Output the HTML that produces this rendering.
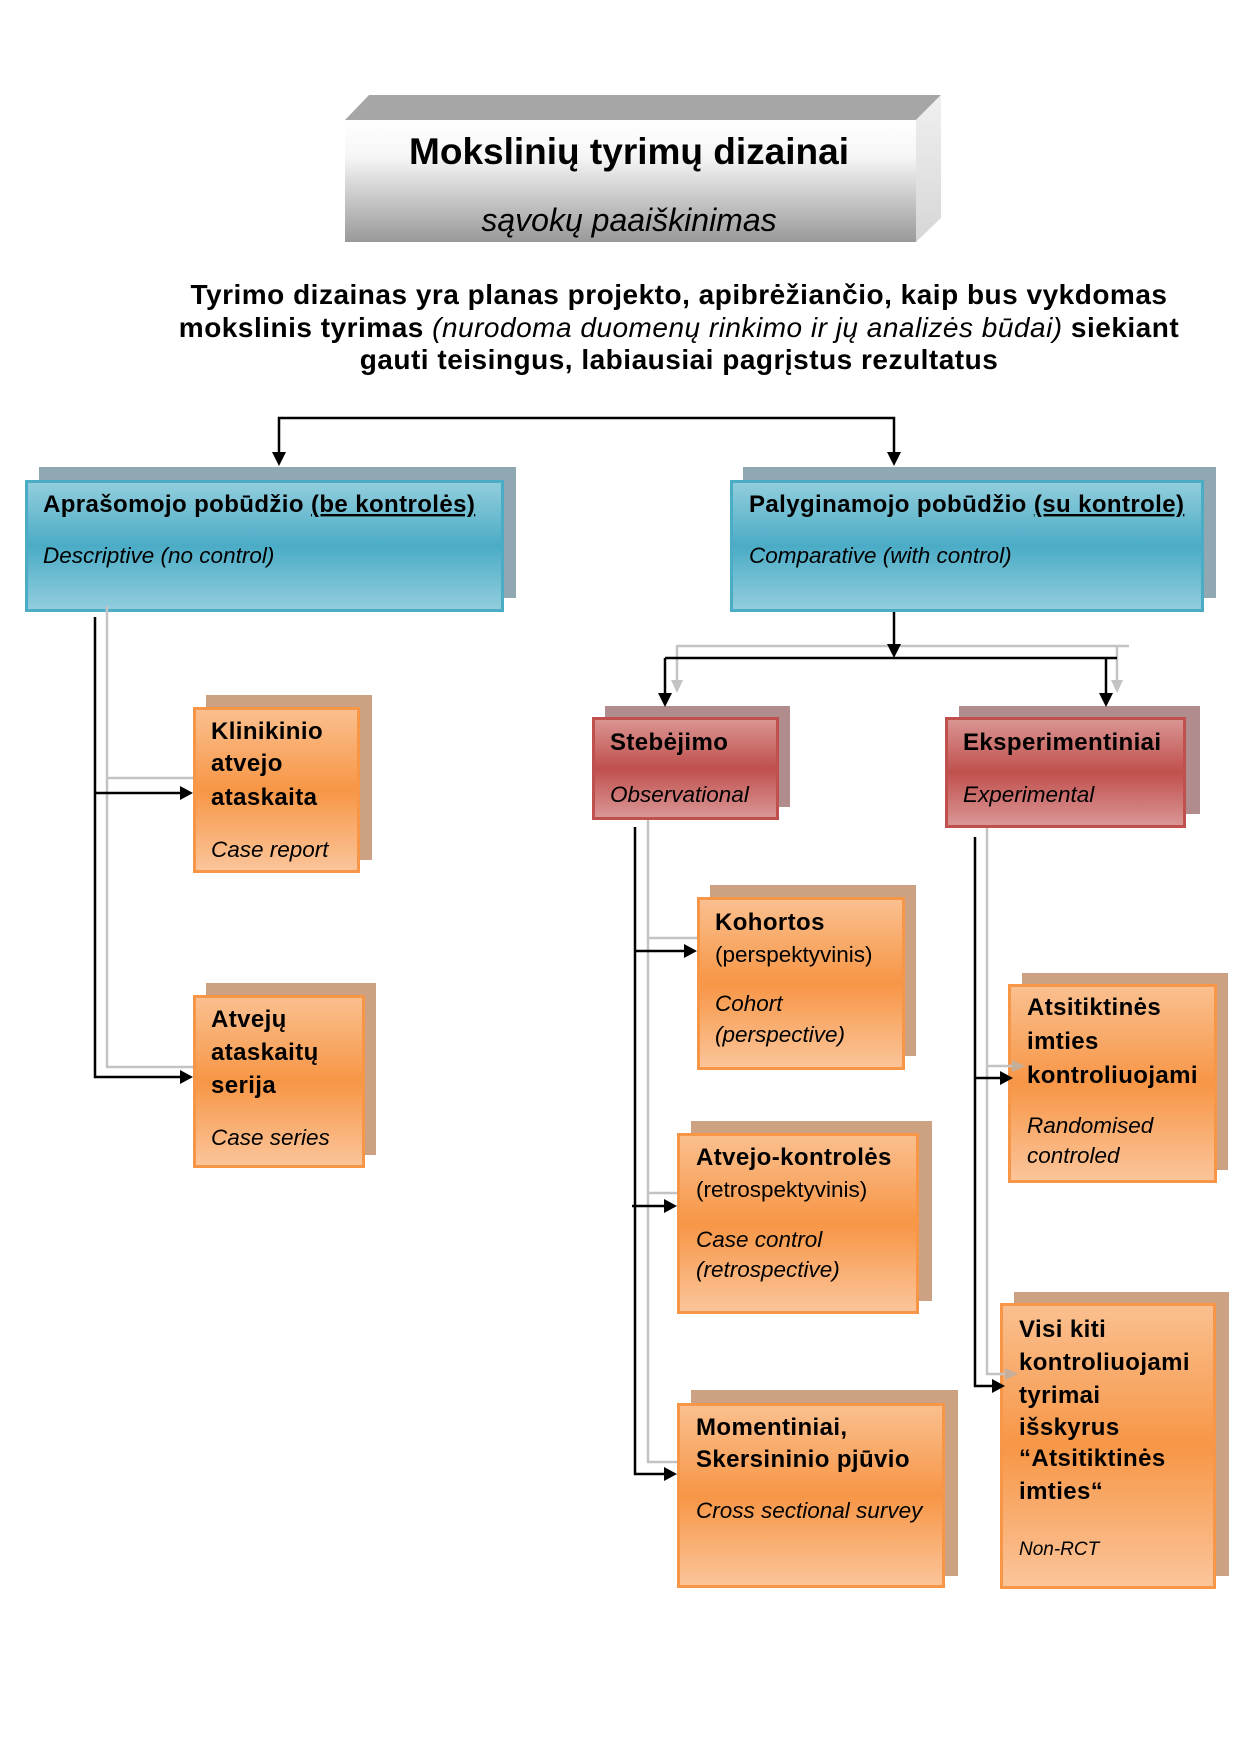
<!DOCTYPE html>
<html>
<head>
<meta charset="utf-8">
<style>
  html,body{margin:0;padding:0;background:#fff;}
  body{width:1240px;height:1754px;overflow:hidden;}
  svg{display:block;}
  .b{font-weight:bold;font-size:24px;letter-spacing:0.4px;fill:#000;}
  .i{font-style:italic;font-size:22.5px;fill:#000;}
  .r{font-size:22.5px;fill:#000;}
</style>
</head>
<body>
<svg width="1240" height="1754" viewBox="0 0 1240 1754" xmlns="http://www.w3.org/2000/svg" font-family="'Liberation Sans', Arial, sans-serif">
  <defs>
    <linearGradient id="gFront" x1="0" y1="0" x2="0" y2="1">
      <stop offset="0" stop-color="#ffffff"/>
      <stop offset="0.3" stop-color="#f6f6f6"/>
      <stop offset="1" stop-color="#999999"/>
    </linearGradient>
    <linearGradient id="gSide" x1="0" y1="0" x2="0" y2="1">
      <stop offset="0" stop-color="#f0f0f0"/>
      <stop offset="1" stop-color="#d6d6d6"/>
    </linearGradient>
    <linearGradient id="gBlue" x1="0" y1="0" x2="0" y2="1">
      <stop offset="0" stop-color="#93cedd"/>
      <stop offset="0.5" stop-color="#4bacc6"/>
      <stop offset="1" stop-color="#93cedd"/>
    </linearGradient>
    <linearGradient id="gRed" x1="0" y1="0" x2="0" y2="1">
      <stop offset="0" stop-color="#da9694"/>
      <stop offset="0.5" stop-color="#c0504d"/>
      <stop offset="1" stop-color="#da9897"/>
    </linearGradient>
    <linearGradient id="gOr" x1="0" y1="0" x2="0" y2="1">
      <stop offset="0" stop-color="#fac090"/>
      <stop offset="0.5" stop-color="#f79646"/>
      <stop offset="1" stop-color="#fbc59b"/>
    </linearGradient>
  </defs>

  <!-- Title 3D box -->
  <polygon points="345,120 369,95 941,95 916,120" fill="#a6a6a6"/>
  <rect x="345" y="120" width="571" height="122" fill="url(#gFront)"/>
  <polygon points="916,120 941,95 941,218 916,242" fill="url(#gSide)"/>
  <text x="629" y="164" text-anchor="middle" font-weight="bold" font-size="37" fill="#000">Mokslinių tyrimų dizainai</text>
  <text x="629" y="231" text-anchor="middle" font-style="italic" font-size="32" fill="#000">sąvokų paaiškinimas</text>

  <!-- Description -->
  <g font-size="28" font-weight="bold" letter-spacing="0.5" fill="#000" text-anchor="middle">
    <text x="679" y="304">Tyrimo dizainas yra planas projekto, apibrėžiančio, kaip bus vykdomas</text>
    <text x="679" y="337">mokslinis tyrimas <tspan font-style="italic" font-weight="normal">(nurodoma duomenų rinkimo ir jų analizės būdai)</tspan> siekiant</text>
    <text x="679" y="369">gauti teisingus, labiausiai pagrįstus rezultatus</text>
  </g>

  <!-- Shadows -->
  <g>
    <rect x="39" y="467" width="477" height="131" fill="#8fa8b2"/>
    <rect x="743" y="467" width="473" height="131" fill="#8fa8b2"/>
    <rect x="605" y="706" width="185" height="101" fill="#b08c8c"/>
    <rect x="959" y="706" width="241" height="108" fill="#b08c8c"/>
    <rect x="206" y="695" width="166" height="165" fill="#cda283"/>
    <rect x="206" y="983" width="170" height="172" fill="#cda283"/>
    <rect x="710" y="885" width="206" height="171" fill="#cda283"/>
    <rect x="691" y="1121" width="241" height="180" fill="#cda283"/>
    <rect x="691" y="1390" width="267" height="186" fill="#cda283"/>
    <rect x="1022" y="973" width="206" height="197" fill="#cda283"/>
    <rect x="1014" y="1292" width="215" height="284" fill="#cda283"/>
  </g>

  <!-- Main boxes -->
  <g stroke-width="3">
    <rect x="26.5" y="481.5" width="476" height="129" fill="url(#gBlue)" stroke="#4bacc6"/>
    <rect x="731.5" y="481.5" width="471" height="129" fill="url(#gBlue)" stroke="#4bacc6"/>
    <rect x="593.5" y="718.5" width="184" height="100" fill="url(#gRed)" stroke="#c0504d"/>
    <rect x="946.5" y="718.5" width="238" height="108" fill="url(#gRed)" stroke="#c0504d"/>
    <rect x="194.5" y="708.5" width="164" height="163" fill="url(#gOr)" stroke="#f79646"/>
    <rect x="194.5" y="996.5" width="169" height="170" fill="url(#gOr)" stroke="#f79646"/>
    <rect x="698.5" y="898.5" width="205" height="170" fill="url(#gOr)" stroke="#f79646"/>
    <rect x="678.5" y="1134.5" width="239" height="178" fill="url(#gOr)" stroke="#f79646"/>
    <rect x="678.5" y="1404.5" width="265" height="182" fill="url(#gOr)" stroke="#f79646"/>
    <rect x="1009.5" y="985.5" width="206" height="196" fill="url(#gOr)" stroke="#f79646"/>
    <rect x="1001.5" y="1304.5" width="213" height="283" fill="url(#gOr)" stroke="#f79646"/>
  </g>

  <!-- Blue box texts -->
  <text x="43" y="512" class="b">Aprašomojo pobūdžio <tspan text-decoration="underline" style="text-decoration:underline">(be kontrolės)</tspan></text>
  <text x="43" y="563" class="i">Descriptive (no control)</text>
  <text x="749" y="512" class="b">Palyginamojo pobūdžio <tspan text-decoration="underline" style="text-decoration:underline">(su kontrole)</tspan></text>
  <text x="749" y="563" class="i">Comparative (with control)</text>

  <!-- Red box texts -->
  <text x="610" y="750" class="b">Stebėjimo</text>
  <text x="610" y="802" class="i">Observational</text>
  <text x="963" y="750" class="b">Eksperimentiniai</text>
  <text x="963" y="802" class="i">Experimental</text>

  <!-- Orange box texts -->
  <text x="211" y="739" class="b">Klinikinio</text>
  <text x="211" y="771" class="b">atvejo</text>
  <text x="211" y="805" class="b">ataskaita</text>
  <text x="211" y="857" class="i">Case report</text>

  <text x="211" y="1027" class="b">Atvejų</text>
  <text x="211" y="1060" class="b">ataskaitų</text>
  <text x="211" y="1093" class="b">serija</text>
  <text x="211" y="1145" class="i">Case series</text>

  <text x="715" y="930" class="b">Kohortos</text>
  <text x="715" y="962" class="r">(perspektyvinis)</text>
  <text x="715" y="1011" class="i">Cohort</text>
  <text x="715" y="1042" class="i">(perspective)</text>

  <text x="696" y="1165" class="b">Atvejo-kontrolės</text>
  <text x="696" y="1197" class="r">(retrospektyvinis)</text>
  <text x="696" y="1247" class="i">Case control</text>
  <text x="696" y="1277" class="i">(retrospective)</text>

  <text x="696" y="1435" class="b">Momentiniai,</text>
  <text x="696" y="1467" class="b">Skersininio pjūvio</text>
  <text x="696" y="1518" class="i">Cross sectional survey</text>

  <text x="1027" y="1015" class="b">Atsitiktinės</text>
  <text x="1027" y="1049" class="b">imties</text>
  <text x="1027" y="1083" class="b">kontroliuojami</text>
  <text x="1027" y="1133" class="i">Randomised</text>
  <text x="1027" y="1163" class="i">controled</text>

  <text x="1019" y="1337" class="b">Visi kiti</text>
  <text x="1019" y="1370" class="b">kontroliuojami</text>
  <text x="1019" y="1403" class="b">tyrimai</text>
  <text x="1019" y="1435" class="b">išskyrus</text>
  <text x="1019" y="1466" class="b">“Atsitiktinės</text>
  <text x="1019" y="1499" class="b">imties“</text>
  <text x="1019" y="1555" font-style="italic" font-size="19" fill="#000">Non-RCT</text>

  <!-- Gray connectors -->
  <g stroke="#c3c3c3" stroke-width="2.5" fill="none">
    <path d="M676,646 H1129"/>
    <path d="M677,646 V681"/>
    <path d="M1117,646 V681"/>
    <path d="M107,606 V1067 H193"/>
    <path d="M107,778 H193"/>
    <path d="M648,820 V1462 H677"/>
    <path d="M648,938 H697"/>
    <path d="M648,1193 H677"/>
    <path d="M987,828 V1374 H1006"/>
    <path d="M987,1066 H1013"/>
  </g>
  <g fill="#c3c3c3">
    <polygon points="671,680 683,680 677,693"/>
    <polygon points="1111,680 1123,680 1117,693"/>
  </g>
  <g fill="#bdb0a4" opacity="0.85">
    <polygon points="1012,1060 1012,1072 1025,1066"/>
    <polygon points="1005,1368 1005,1380 1018,1374"/>
  </g>

  <!-- Black connectors -->
  <g stroke="#000" stroke-width="2.5" fill="none">
    <path d="M279,453 V418 H894 V453"/>
    <path d="M894,612 V645"/>
    <path d="M665,658 H1117"/>
    <path d="M665,658 V694"/>
    <path d="M1106,658 V694"/>
    <path d="M95,617 V1077 H180"/>
    <path d="M95,793 H180"/>
    <path d="M635,827 V1474 H664"/>
    <path d="M635,951 H684"/>
    <path d="M632,1206 H664"/>
    <path d="M975,837 V1386 H992"/>
    <path d="M975,1078 H1000"/>
  </g>
  <g fill="#000">
    <polygon points="272,452 286,452 279,466"/>
    <polygon points="887,452 901,452 894,466"/>
    <polygon points="887,644 901,644 894,658"/>
    <polygon points="658,693 672,693 665,707"/>
    <polygon points="1099,693 1113,693 1106,707"/>
    <polygon points="180,786 180,800 193,793"/>
    <polygon points="180,1070 180,1084 193,1077"/>
    <polygon points="684,944 684,958 697,951"/>
    <polygon points="664,1199 664,1213 677,1206"/>
    <polygon points="664,1467 664,1481 677,1474"/>
    <polygon points="1000,1071 1000,1085 1013,1078"/>
    <polygon points="992,1379 992,1393 1005,1386"/>
  </g>
</svg>
</body>
</html>
